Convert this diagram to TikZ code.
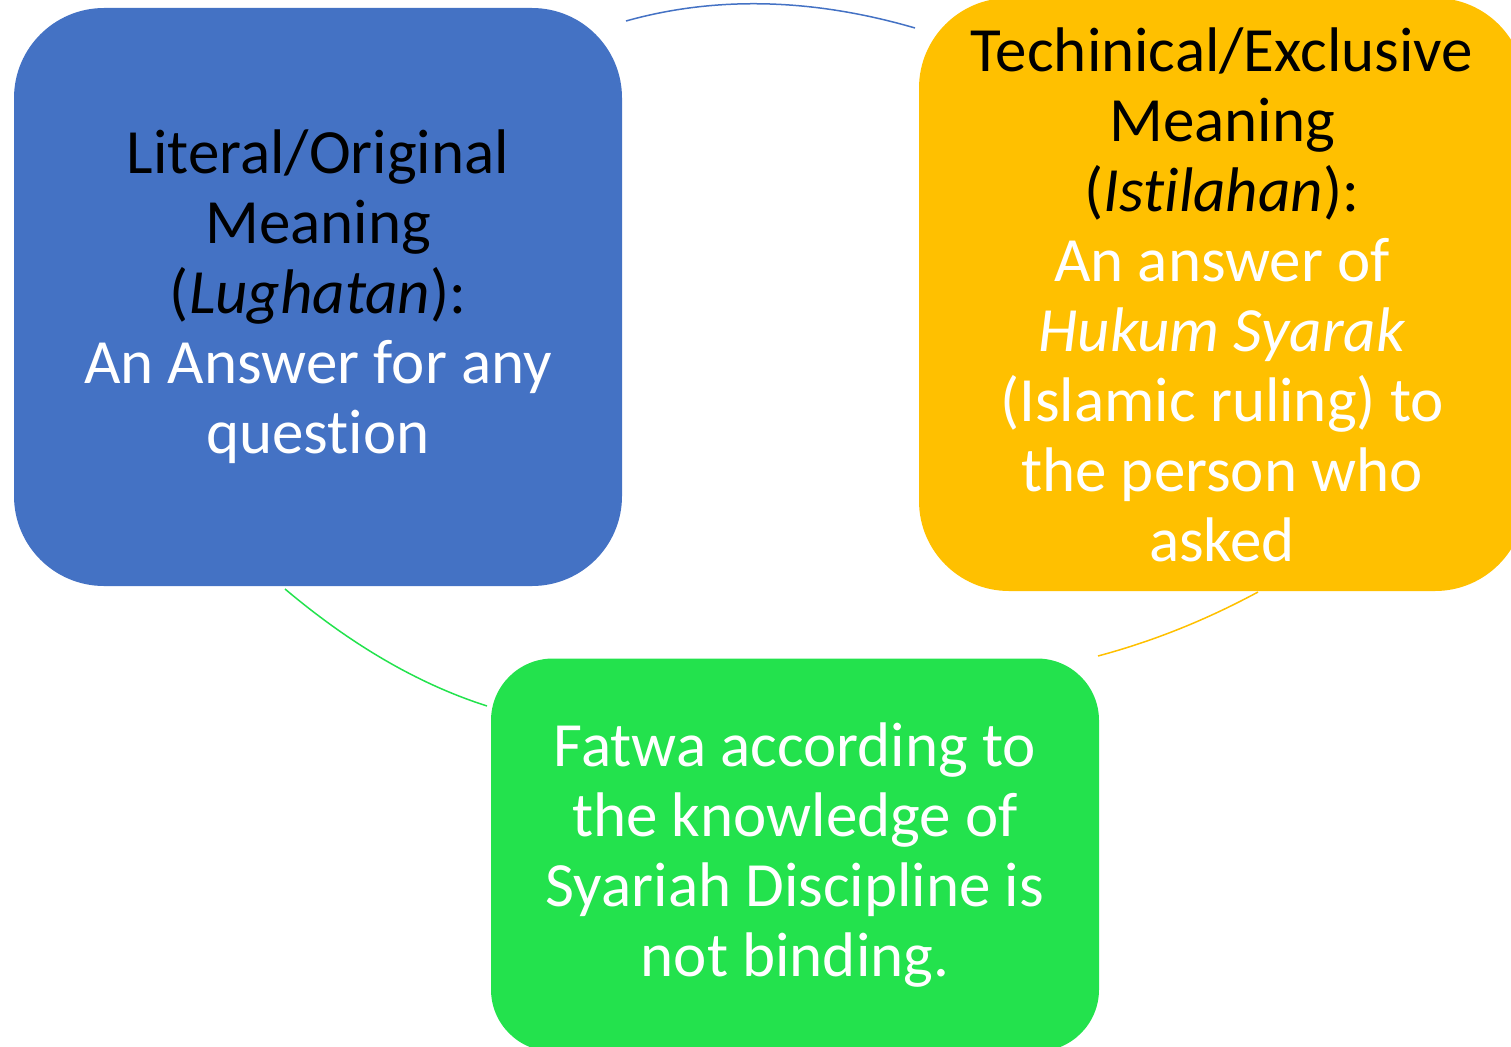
\documentclass[tikz,border=0pt]{standalone}
\usepackage{fontspec}
\setmainfont{Carlito}[Ligatures=NoCommon]
\definecolor{boxblue}{HTML}{4472C4}
\definecolor{boxorange}{HTML}{FFC000}
\definecolor{boxgreen}{HTML}{23E24D}

\begin{document}
\begin{tikzpicture}[x=1pt, y=-1pt,
    box/.style={rectangle, rounded corners=90pt, inner sep=0pt, align=center,
        text=white, font=\fontsize{63}{70}\selectfont},
    link/.style={line width=1.5pt}]
    \useasboundingbox (0,0) rectangle (1511,1046);
    \clip (0,0) rectangle (1511,1046);

    % the three boxes
    \node[box, fill=boxblue, minimum width=608pt, minimum height=578pt] (literal) at (318,297)
        {\textcolor{black}{Literal/Original}\\
         \textcolor{black}{Meaning}\\
         \textcolor{black}{(\textit{Lughatan}):}\\
         An Answer for any\\
         question};
    \node[box, fill=boxorange, minimum width=606pt, minimum height=593pt] (technical) at (1222,294.5)
        {\textcolor{black}{Techinical/Exclusive}\\
         \textcolor{black}{Meaning}\\
         \textcolor{black}{(\textit{Istilahan}):}\\
         An answer of\\
         \textit{Hukum Syarak}\\
         (Islamic ruling) to\\
         the person who\\
         asked};
    \node[box, fill=boxgreen, rounded corners=62pt, minimum width=608pt, minimum height=393pt] (fatwa) at (795,855)
        {Fatwa according to\\
         the knowledge of\\
         Syariah Discipline is\\
         not binding.};

    % the arcs between the boxes
    \coordinate (blue start) at (626,21);
    \coordinate (blue end) at (915,28);
    \coordinate (orange start) at (1258,592);
    \coordinate (orange end) at (1098,656);
    \coordinate (green start) at (285,589);
    \coordinate (green end) at (487,706);
    \draw[link, boxblue] (blue start) .. controls (715,-4) and (812,-2) .. (blue end);
    \draw[link, boxorange] (orange start) .. controls (1207,619.5) and (1154,641) .. (orange end);
    \draw[link, boxgreen] (green start) .. controls (345,639.5) and (412,682) .. (green end);
\end{tikzpicture}
\end{document}
